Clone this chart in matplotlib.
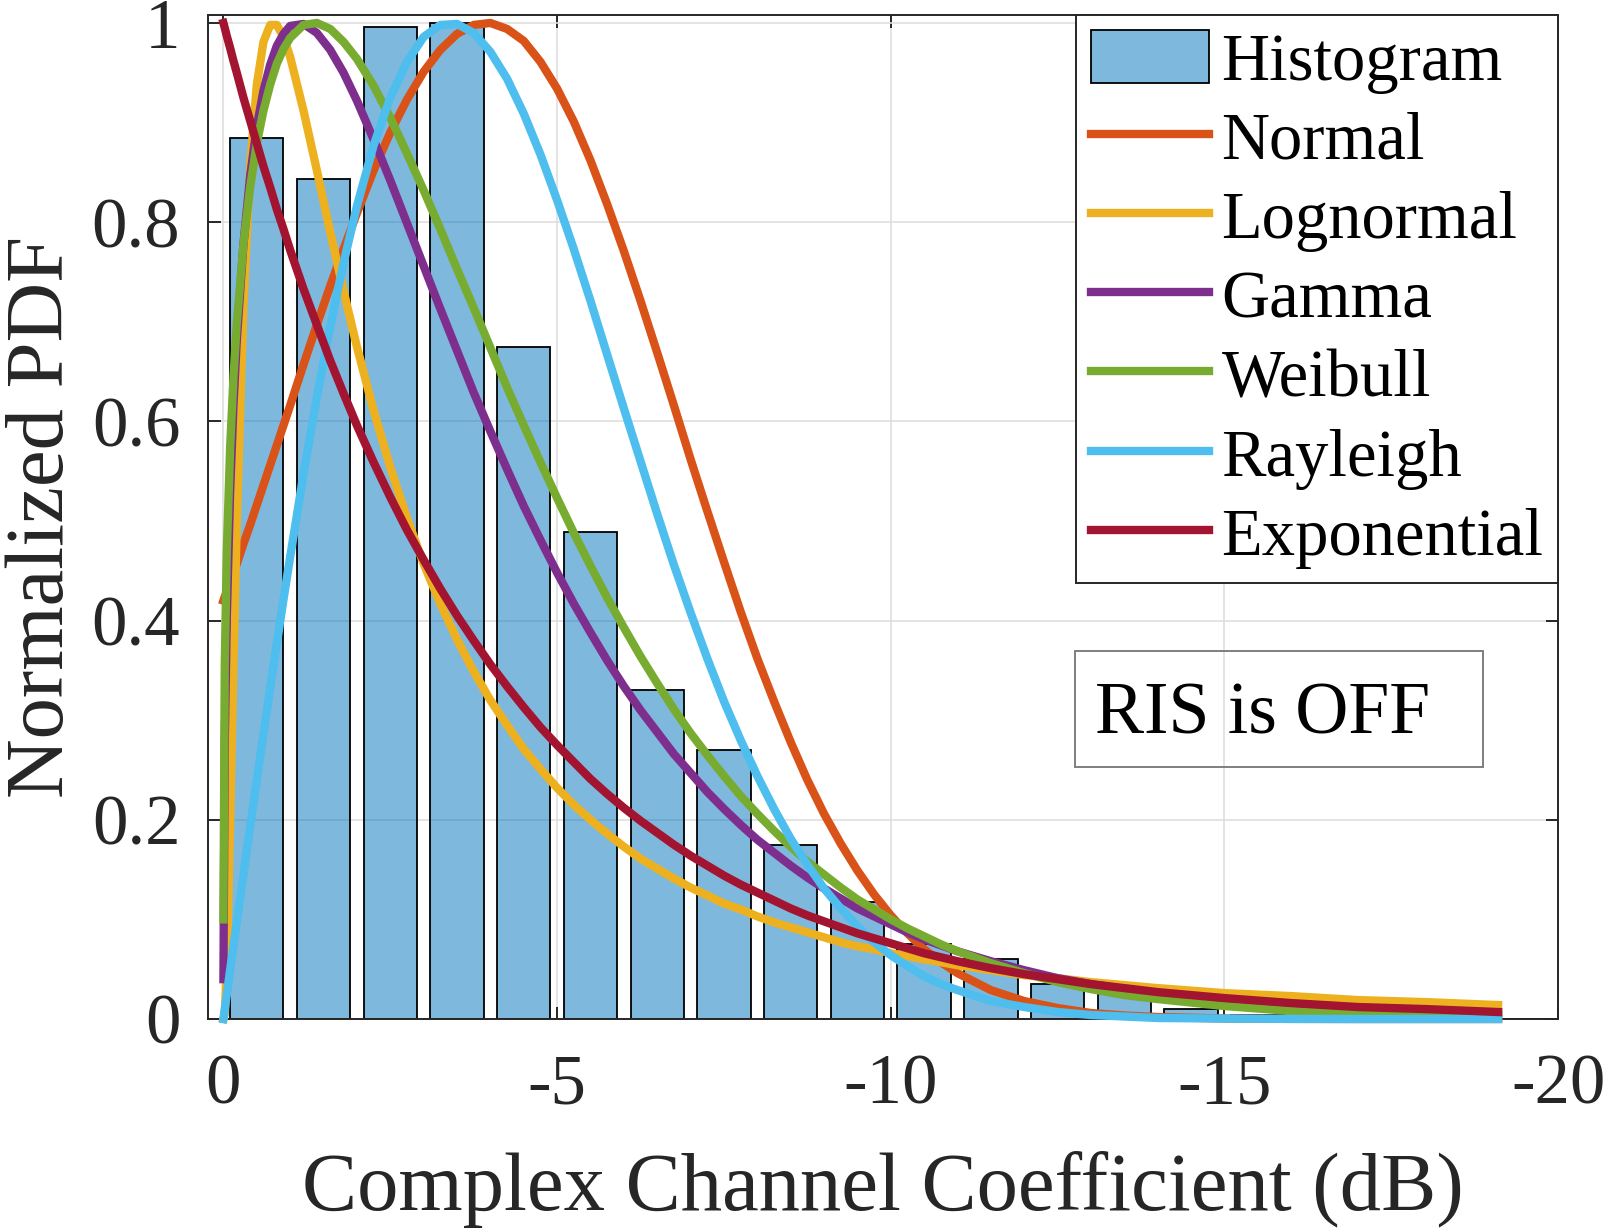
import numpy as np
import matplotlib
matplotlib.use("Agg")
import matplotlib.pyplot as plt
from matplotlib.patches import Rectangle

plt.rcParams['font.family'] = ['Liberation Serif', 'DejaVu Serif']
plt.rcParams['axes.unicode_minus'] = False

# histogram (bin centres in dB, normalised heights)
bin_centers = [-0.5, -1.5, -2.5, -3.5, -4.5, -5.5, -6.5, -7.5, -8.5, -9.5,
               -10.5, -11.5, -12.5, -13.5, -14.5, -15.5, -16.5, -17.5, -18.5, -19.5]
hist_heights = [0.884, 0.843, 0.996, 1.0, 0.675, 0.489, 0.330, 0.270, 0.175, 0.117,
                0.075, 0.060, 0.035, 0.025, 0.010, 0.004, 0.003, 0.002, 0.0, 0.0]

# fitted curves
x_fit = [0, -0.02, -0.05, -0.1, -0.15, -0.2, -0.3, -0.4, -0.5, -0.6, -0.7, -0.8, -0.9, -1.0,
         -1.2, -1.4, -1.6, -1.8, -2.0, -2.25, -2.5, -2.75, -3.0, -3.25, -3.5, -3.75, -4.0,
         -4.25, -4.5, -4.75, -5.0, -5.25, -5.5, -5.75, -6.0, -6.25, -6.5, -6.75, -7.0, -7.25, -7.5,
         -7.75, -8.0, -8.25, -8.5, -8.75, -9.0, -9.25, -9.5, -9.75, -10.0, -10.25, -10.5, -10.75, -11.0,
         -11.5, -12.0, -12.5, -13.0, -13.5, -14.0, -15.0, -16.0, -17.0, -18.0, -19.1]

pdf_normal = [0.420, 0.424, 0.429, 0.439, 0.448, 0.457, 0.477, 0.496, 0.516, 0.536, 0.556, 0.576, 0.596, 0.616,
              0.657, 0.697, 0.736, 0.773, 0.809, 0.852, 0.890, 0.923, 0.951, 0.973, 0.989, 0.998, 1.000,
              0.994, 0.982, 0.961, 0.934, 0.901, 0.862, 0.818, 0.771, 0.721, 0.669, 0.616, 0.562, 0.510, 0.459,
              0.409, 0.362, 0.319, 0.278, 0.240, 0.206, 0.176, 0.149, 0.125, 0.104, 0.086, 0.070, 0.057, 0.046,
              0.029, 0.018, 0.011, 0.006, 0.0035, 0.002, 0.0005, 0.0001, 0.0, 0.0, 0.0]
pdf_lognormal = [0.0, 0.005, 0.053, 0.197, 0.355, 0.498, 0.716, 0.856, 0.938, 0.981, 0.998, 0.998, 0.986, 0.966,
                 0.912, 0.852, 0.790, 0.731, 0.675, 0.611, 0.554, 0.503, 0.457, 0.417, 0.381, 0.349, 0.320,
                 0.295, 0.271, 0.251, 0.232, 0.215, 0.200, 0.186, 0.173, 0.161, 0.151, 0.141, 0.132, 0.124, 0.116,
                 0.110, 0.103, 0.097, 0.092, 0.087, 0.082, 0.077, 0.073, 0.070, 0.066, 0.063, 0.060, 0.057, 0.054,
                 0.049, 0.044, 0.041, 0.037, 0.034, 0.031, 0.026, 0.023, 0.019, 0.017, 0.014]
pdf_gamma = [0.040, 0.277, 0.402, 0.528, 0.615, 0.681, 0.778, 0.846, 0.896, 0.932, 0.958, 0.977, 0.989, 0.997,
             0.999, 0.990, 0.973, 0.950, 0.922, 0.883, 0.842, 0.799, 0.756, 0.713, 0.671, 0.629, 0.590,
             0.552, 0.515, 0.481, 0.448, 0.417, 0.388, 0.360, 0.334, 0.310, 0.288, 0.266, 0.247, 0.228, 0.211,
             0.195, 0.180, 0.167, 0.154, 0.142, 0.131, 0.121, 0.111, 0.103, 0.095, 0.087, 0.080, 0.074, 0.068,
             0.058, 0.049, 0.041, 0.035, 0.030, 0.025, 0.018, 0.013, 0.009, 0.006, 0.004]
pdf_weibull = [0.100, 0.356, 0.468, 0.573, 0.644, 0.698, 0.778, 0.835, 0.879, 0.912, 0.938, 0.959, 0.974, 0.985,
               0.998, 1.000, 0.994, 0.981, 0.964, 0.937, 0.905, 0.869, 0.832, 0.793, 0.753, 0.714, 0.674,
               0.634, 0.596, 0.559, 0.523, 0.488, 0.455, 0.423, 0.393, 0.364, 0.337, 0.311, 0.287, 0.265, 0.244,
               0.224, 0.206, 0.189, 0.173, 0.158, 0.145, 0.132, 0.120, 0.110, 0.100, 0.091, 0.083, 0.075, 0.068,
               0.056, 0.046, 0.037, 0.030, 0.024, 0.020, 0.013, 0.008, 0.005, 0.003, 0.002]
pdf_rayleigh = [0.0, 0.010, 0.024, 0.049, 0.073, 0.097, 0.145, 0.193, 0.240, 0.286, 0.332, 0.377, 0.421, 0.464,
                0.547, 0.624, 0.695, 0.759, 0.816, 0.877, 0.925, 0.961, 0.986, 0.998, 0.999, 0.990, 0.971,
                0.944, 0.909, 0.868, 0.822, 0.773, 0.721, 0.667, 0.613, 0.560, 0.507, 0.456, 0.408, 0.362, 0.319,
                0.280, 0.244, 0.211, 0.181, 0.155, 0.131, 0.111, 0.093, 0.077, 0.064, 0.053, 0.043, 0.035, 0.029,
                0.018, 0.012, 0.007, 0.004, 0.0025, 0.001, 0.0004, 0.0001, 0.0, 0.0, 0.0]
pdf_exponential = [1.0, 0.995, 0.987, 0.975, 0.962, 0.950, 0.925, 0.902, 0.879, 0.856, 0.835, 0.813, 0.793, 0.772,
                   0.733, 0.697, 0.661, 0.628, 0.596, 0.559, 0.524, 0.491, 0.461, 0.432, 0.405, 0.380, 0.356,
                   0.334, 0.313, 0.293, 0.275, 0.258, 0.241, 0.226, 0.212, 0.199, 0.187, 0.175, 0.164, 0.154, 0.144,
                   0.135, 0.127, 0.119, 0.111, 0.104, 0.098, 0.092, 0.086, 0.081, 0.076, 0.071, 0.066, 0.062, 0.058,
                   0.051, 0.045, 0.040, 0.035, 0.031, 0.027, 0.021, 0.016, 0.012, 0.010, 0.007]

curve_names = ['Normal', 'Lognormal', 'Gamma', 'Weibull', 'Rayleigh', 'Exponential']
curve_colors = ['#D95319', '#EDB120', '#7E2F8E', '#77AC30', '#4DBEEE', '#A2142F']
curves = [pdf_normal, pdf_lognormal, pdf_gamma, pdf_weibull, pdf_rayleigh, pdf_exponential]

x_ticks = [0, -5, -10, -15, -20]
x_ticklabels = ['0', '-5', '-10', '-15', '-20']
y_ticks = [0, 0.2, 0.4, 0.6, 0.8, 1.0]
y_ticklabels = ['0', '0.2', '0.4', '0.6', '0.8', '1']

fig = plt.figure(figsize=(16.08, 12.28), dpi=100)
ax = fig.add_axes([0.1294, 0.1702, 0.8396, 0.8176])

bars = ax.bar(bin_centers, hist_heights, width=0.8, facecolor=(0.0, 0.447, 0.741, 0.5),
              edgecolor='black', linewidth=1.3, label='Histogram', zorder=2)
lines = []
for name, vals, col in zip(curve_names, curves, curve_colors):
    ln, = ax.plot(x_fit, vals, color=col, lw=6, label=name, zorder=3, clip_on=False)
    lines.append(ln)

ax.set_xlim(0.23, -20)
ax.set_ylim(0, 1.008)
ax.set_xticks(x_ticks)
ax.set_xticklabels(x_ticklabels)
ax.set_yticks(y_ticks)
ax.set_yticklabels(y_ticklabels)
ax.tick_params(direction='in', length=9, width=1.4, top=True, right=True,
               labelsize=51, color='#262626', labelcolor='#262626')
ax.tick_params(axis='x', pad=25)
ax.tick_params(axis='y', pad=20)
for sp in ax.spines.values():
    sp.set_linewidth(1.4)
    sp.set_color('#262626')
ax.grid(True, color='#dfdfdf', lw=1.2)
ax.set_axisbelow(True)

ax.set_xlabel('Complex Channel Coefficient (dB)', fontsize=59.5, color='#262626', labelpad=23)
ax.set_ylabel('Normalized PDF', fontsize=59.5, color='#262626', labelpad=8)

leg = ax.legend([bars] + lines, ['Histogram'] + curve_names, loc='upper right',
                bbox_to_anchor=(1, 1), borderaxespad=0, fontsize=48,
                handlelength=1.78, handleheight=0.86, handletextpad=0.18, labelspacing=0.23,
                borderpad=0.22, fancybox=False, framealpha=1)
leg.get_frame().set_edgecolor('#262626')
leg.get_frame().set_linewidth(1.4)

ax.add_patch(Rectangle((0.642, 0.251), 0.302, 0.1155, transform=ax.transAxes,
                       facecolor='none', edgecolor='#7f7f7f', lw=1.4, zorder=5))
ax.text(0.781, 0.2846, 'RIS is OFF', transform=ax.transAxes, ha='center', va='baseline',
        fontsize=53, color='black', zorder=6)

fig.savefig('out.png', dpi=100)
